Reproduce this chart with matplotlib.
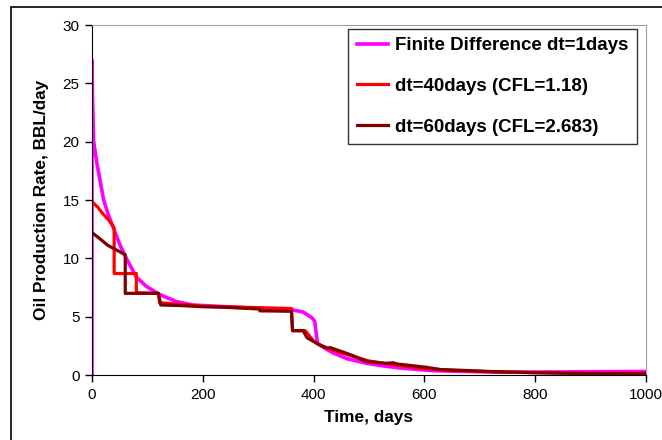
import matplotlib.pyplot as plt
from matplotlib.patches import Rectangle

# Finite difference, dt = 1 day
fd_days = [0, 0, 1, 3, 9, 21, 29, 38, 50, 62, 80, 98, 122, 152, 182, 242, 303, 360, 381,
           397, 402, 407, 420, 435, 460, 496, 530, 556, 616, 680, 736, 800, 900, 1000]
fd_rate = [0, 27, 23.5, 20.0, 18.1, 15.0, 13.8, 12.7, 11.2, 10.0, 8.4, 7.6, 6.9, 6.3, 6.0,
           5.85, 5.7, 5.6, 5.4, 4.9, 4.6, 2.7, 2.3, 1.9, 1.4, 1.0, 0.75, 0.6, 0.37, 0.3,
           0.25, 0.25, 0.28, 0.3]

# dt = 40 days
dt40_days = [0, 10, 20, 30, 40, 40, 80, 80, 120, 122, 160, 200, 240, 280, 320, 360, 362,
             385, 400, 410, 430, 460, 500, 550, 600, 650, 700, 800, 900, 1000]
dt40_rate = [14.85, 14.4, 13.8, 13.3, 12.6, 8.7, 8.7, 7.05, 7.0, 6.2, 6.05, 5.9, 5.85, 5.8,
             5.75, 5.7, 3.8, 3.8, 2.9, 2.6, 2.2, 1.75, 1.2, 0.85, 0.55, 0.4, 0.3, 0.2,
             0.15, 0.15]

# dt = 60 days
dt60_days = [0, 15, 29, 45, 60, 60, 120, 124, 160, 200, 240, 303, 303, 360, 362, 381, 388,
             406, 424, 430, 469, 496, 530, 544, 550, 604, 628, 680, 736, 797, 881, 1000]
dt60_rate = [12.2, 11.65, 11.1, 10.7, 10.3, 7.0, 7.0, 6.0, 5.95, 5.85, 5.8, 5.66, 5.5,
             5.46, 3.8, 3.8, 3.2, 2.7, 2.3, 2.35, 1.7, 1.15, 1.0, 1.05, 0.95, 0.66, 0.47,
             0.38, 0.27, 0.2, 0.13, 0.1]

labels = ['Finite Difference dt=1days', 'dt=40days (CFL=1.18)', 'dt=60days (CFL=2.683)']

plt.rcParams['font.family'] = ['Liberation Sans', 'DejaVu Sans']

fig = plt.figure(figsize=(6.62, 4.4), dpi=100)
ax = fig.add_axes([92 / 662, 65 / 440, 554 / 662, 350 / 440])

ax.plot(fd_days, fd_rate, color='#ff00ff', lw=2.6, label=labels[0])
ax.plot(dt40_days, dt40_rate, color='#ff0000', lw=2.3, label=labels[1])
ax.plot(dt60_days, dt60_rate, color='#800000', lw=2.3, label=labels[2])

ax.set_xlim(0, 1000)
ax.set_ylim(0, 30)
ax.set_xticks(range(0, 1001, 200))
ax.set_yticks(range(0, 31, 5))
ax.tick_params(direction='out', length=5, width=1, labelsize=11, pad=4)
for side in ['top', 'right']:
    ax.spines[side].set_color('#a0a0a0')
for side in ['left', 'bottom']:
    ax.spines[side].set_color('black')

ax.set_xlabel('Time, days', fontsize=12.4, fontweight='bold', labelpad=6)
ax.set_ylabel('Oil Production Rate, BBL/day', fontsize=12.4, fontweight='bold', labelpad=10)

leg = ax.legend(loc='upper right', bbox_to_anchor=(0.984, 0.99), borderaxespad=0,
                frameon=True, fancybox=False, edgecolor='black', handlelength=1.7,
                handletextpad=0.37, labelspacing=1.26, borderpad=0.45,
                prop={'size': 13.5, 'weight': 'bold'})
leg.get_frame().set_linewidth(1.0)

# outer frame of the chart area
fig.patches.append(Rectangle((11 / 662, -0.1), 1.2, (440 - 7) / 440 + 0.1,
                             transform=fig.transFigure, fill=False,
                             edgecolor='black', lw=1.2))

fig.savefig('out.png', dpi=100)
